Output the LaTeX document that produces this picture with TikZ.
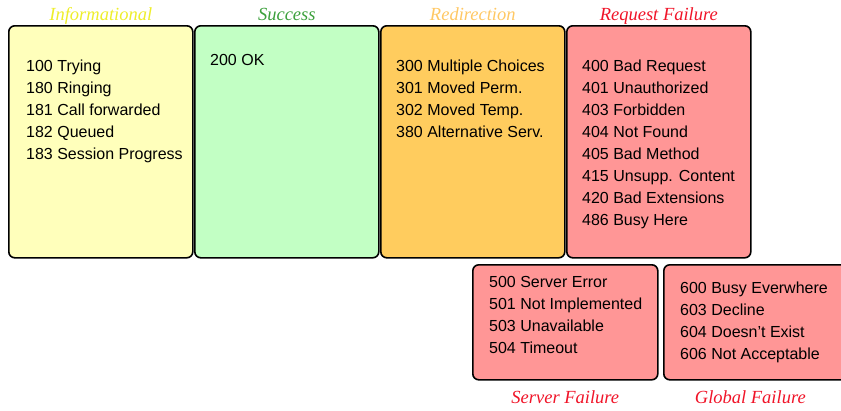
\documentclass[tikz,border=0pt]{standalone}
\usepackage{fontspec}
\setmainfont{Liberation Serif}
\setsansfont{Liberation Sans}
\usetikzlibrary{positioning}

\definecolor{infofill}{HTML}{FFFFBB}
\definecolor{succfill}{HTML}{C2FFC4}
\definecolor{redirfill}{HTML}{FFCC5E}
\definecolor{failfill}{HTML}{FF9696}
\definecolor{infotext}{HTML}{EEEE2A}
\definecolor{succtext}{HTML}{3CA03C}
\definecolor{redirtext}{HTML}{FFC864}
\definecolor{failtext}{HTML}{F01428}

\begin{document}
\begin{tikzpicture}[
  x=1pt, y=-1pt,
  codebox/.style={
    rectangle, rounded corners=6pt, draw=black, fill=#1,
    line width=1.6pt, inner sep=0pt, anchor=north west,
    minimum width=184pt, minimum height=232pt
  },
  codelist/.style={
    anchor=north west, align=left, inner sep=0pt,
    font=\sffamily\fontsize{16}{22}\selectfont
  },
  classlabel/.style={
    font=\rmfamily\itshape\fontsize{18.5}{20}\selectfont,
    text=#1, inner sep=0pt, anchor=base
  },
]
  \useasboundingbox (0,0) rectangle (841,410);

  % Row 1: 1xx to 4xx
  \node[codebox=infofill] (infobox) at (8,25) {};
  \node[codebox=succfill] (succbox) [right=0.4pt of infobox] {};
  \node[codebox=redirfill] (redirbox) [right=0.4pt of succbox] {};
  \node[codebox=failfill] (reqbox) [right=0.4pt of redirbox] {};

  % Row 2: 5xx and 6xx
  \node[codebox=failfill, minimum width=185pt, minimum height=115pt] (servbox) at (472,264) {};
  \node[codebox=failfill, minimum width=185pt, minimum height=115pt] (globbox) at (663,264) {};

  % Code lists
  \node[codelist] (infolist) at ([xshift=18pt, yshift=-35pt]infobox.north west)
    {100 Trying\\180 Ringing\\181 Call forwarded\\182 Queued\\183 Session Progress};
  \node[codelist] (succlist) at ([xshift=16pt, yshift=-29pt]succbox.north west)
    {200 OK};
  \node[codelist] (redirlist) at ([xshift=16pt, yshift=-35pt]redirbox.north west)
    {300 Multiple Choices\\301 Moved Perm.\\302 Moved Temp.\\380 Alternative Serv.};
  \node[codelist] (reqlist) at ([xshift=16pt, yshift=-35pt]reqbox.north west)
    {400 Bad Request\\401 Unauthorized\\403 Forbidden\\404 Not Found\\405 Bad Method\\415 Unsupp. Content\\420 Bad Extensions\\486 Busy Here};
  \node[codelist] (servlist) at ([xshift=17pt, yshift=-12pt]servbox.north west)
    {500 Server Error\\501 Not Implemented\\503 Unavailable\\504 Timeout};
  \node[codelist] (globlist) at ([xshift=17pt, yshift=-18pt]globbox.north west)
    {600 Busy Everwhere\\603 Decline\\604 Doesn’t Exist\\606 Not Acceptable};

  % Class labels
  \node[classlabel=infotext] (infolabel) at ([yshift=5pt]infobox.north) {Informational};
  \node[classlabel=succtext] (succlabel) at ([yshift=5pt]succbox.north) {Success};
  \node[classlabel=redirtext] (redirlabel) at ([yshift=5pt]redirbox.north) {Redirection};
  \node[classlabel=failtext] (reqlabel) at ([yshift=5pt]reqbox.north) {Request Failure};
  \node[classlabel=failtext] (servlabel) at ([yshift=-23pt]servbox.south) {Server Failure};
  \node[classlabel=failtext] (globlabel) at ([xshift=-6pt, yshift=-23pt]globbox.south) {Global Failure};
\end{tikzpicture}
\end{document}
